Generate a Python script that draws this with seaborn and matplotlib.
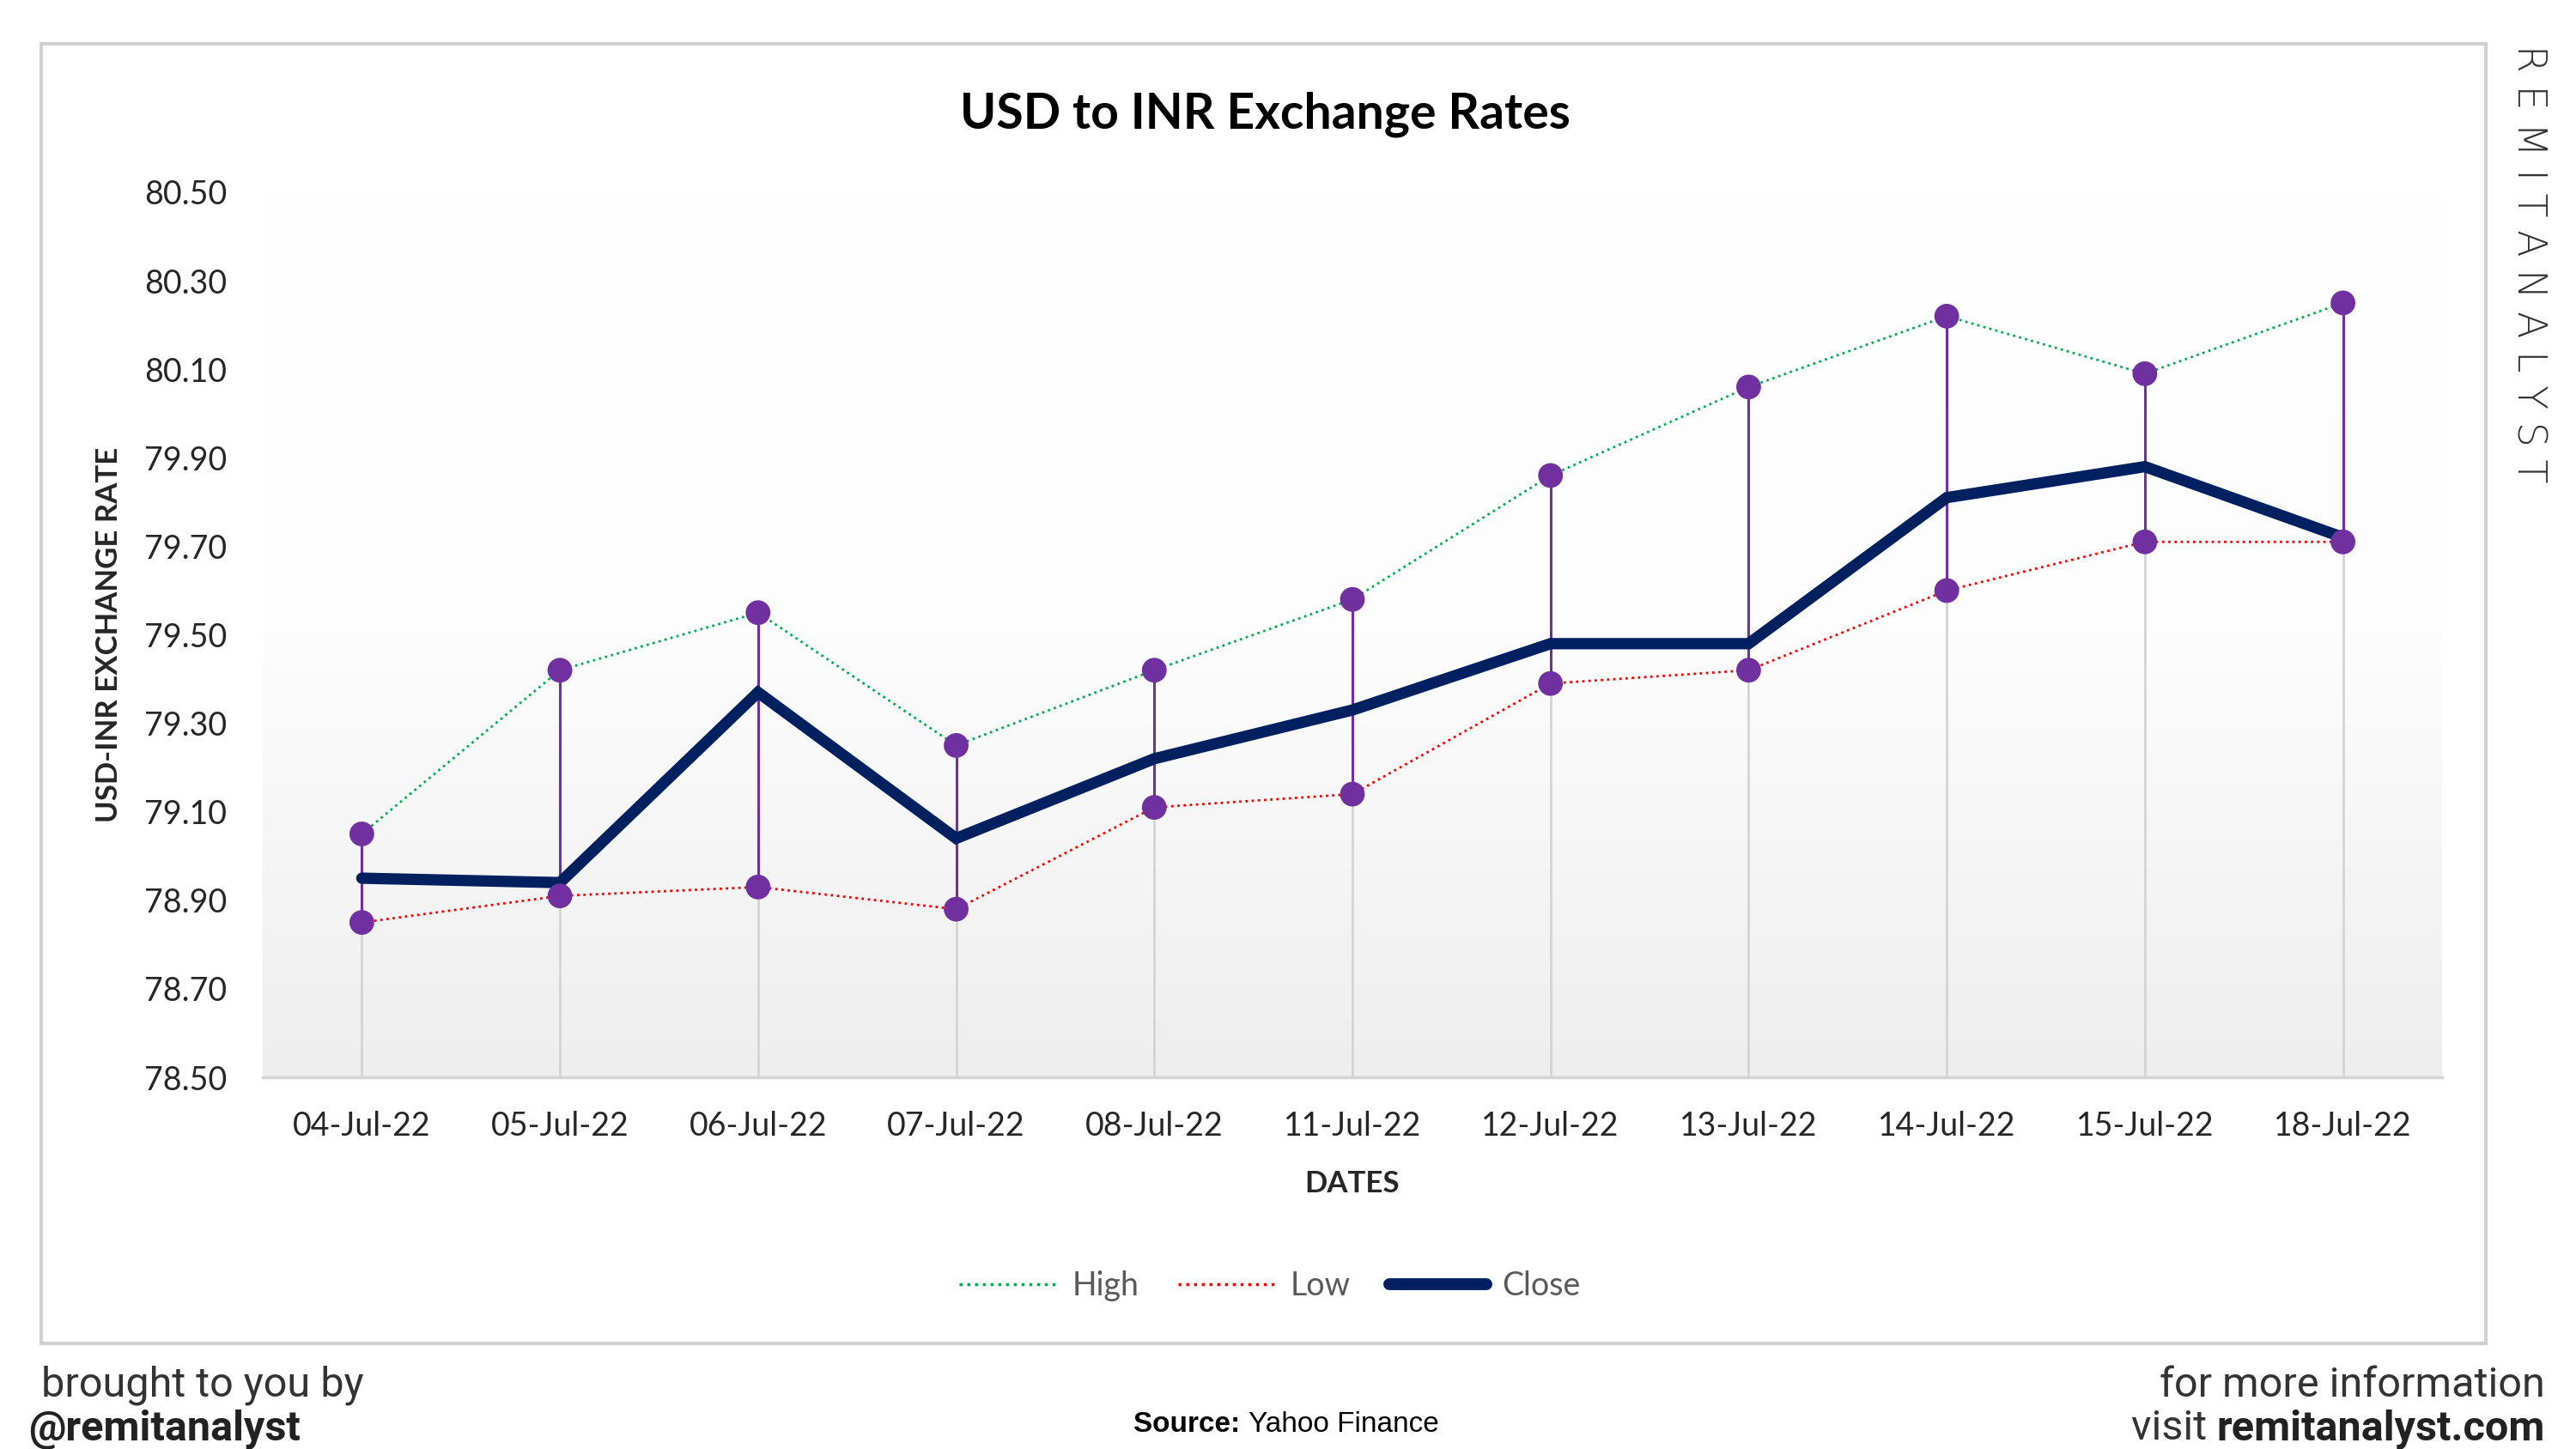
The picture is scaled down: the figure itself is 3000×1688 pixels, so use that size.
import numpy as np
import pandas as pd
import matplotlib.pyplot as plt
import seaborn as sns
from matplotlib.lines import Line2D
from matplotlib.patches import Rectangle

# data
dates = ['04-Jul-22', '05-Jul-22', '06-Jul-22', '07-Jul-22', '08-Jul-22', '11-Jul-22',
         '12-Jul-22', '13-Jul-22', '14-Jul-22', '15-Jul-22', '18-Jul-22']
high = [79.05, 79.42, 79.55, 79.25, 79.42, 79.58, 79.86, 80.06, 80.22, 80.09, 80.25]
low = [78.85, 78.91, 78.93, 78.88, 79.11, 79.14, 79.39, 79.42, 79.60, 79.71, 79.71]
close = [78.95, 78.94, 79.37, 79.04, 79.22, 79.33, 79.48, 79.48, 79.81, 79.88, 79.72]
y_ticks = [78.50, 78.70, 78.90, 79.10, 79.30, 79.50, 79.70, 79.90, 80.10, 80.30, 80.50]

GREEN = '#00b050'
RED = '#ff0000'
NAVY = '#002060'
PURPLE = '#7030a0'
GRID = '#d4d4d4'
TEXT = '#262626'
FOOT = ['Roboto', 'DejaVu Sans']
ARIAL = ['Liberation Sans', 'DejaVu Sans']

sns.set_theme(style='white')
plt.rcParams['font.family'] = ['Lato', 'DejaVu Sans']

df = pd.DataFrame({'Date': dates, 'High': high, 'Low': low, 'Close': close})
df['pos'] = np.arange(len(df))

fig = plt.figure(figsize=(30, 16.88), dpi=100)

# outer frame of the card
fig.patches.append(Rectangle((0.016, 0.073), 0.949, 0.897, transform=fig.transFigure,
                             facecolor='none', edgecolor='#d0d0d0', linewidth=3, zorder=-1))

ax = fig.add_axes([0.102, 0.2565, 0.846, 0.6108])
ax.set_facecolor('none')

# gradient plot area: white at the top, light grey at the bottom
grad = np.linspace(0, 1, 256).reshape(-1, 1)
cmap = sns.blend_palette(['#ffffff', '#fdfdfd', '#eeeeee'], as_cmap=True)
ax.imshow(grad, cmap=cmap, extent=[0, 1, 0, 1], transform=ax.transAxes,
          aspect='auto', zorder=0, vmin=0, vmax=1)

# drop lines and high-low lines
ax.vlines(df['pos'], y_ticks[0], df['High'], color=GRID, linewidth=2, zorder=1)
ax.vlines(df['pos'], df['Low'], df['High'], color=PURPLE, linewidth=2.2, zorder=2)

sns.lineplot(data=df, x='pos', y='High', ax=ax, color=GREEN, linewidth=2,
             linestyle=(0, (1, 1.6)), zorder=3)
sns.lineplot(data=df, x='pos', y='Low', ax=ax, color=RED, linewidth=2,
             linestyle=(0, (1, 1.6)), zorder=3)
sns.lineplot(data=df, x='pos', y='Close', ax=ax, color=NAVY, linewidth=9.5,
             solid_joinstyle='miter', zorder=4)
sns.scatterplot(data=df, x='pos', y='High', ax=ax, color=PURPLE, s=430,
                edgecolor='none', zorder=5)
sns.scatterplot(data=df, x='pos', y='Low', ax=ax, color=PURPLE, s=430,
                edgecolor='none', zorder=5)

ax.set_xlim(-0.5, len(dates) - 0.5)
ax.set_ylim(y_ticks[0], y_ticks[-1])
ax.set_yticks(y_ticks)
ax.set_yticklabels([f'{v:.2f}' for v in y_ticks], fontsize=27, color=TEXT)
ax.set_xticks(df['pos'])
ax.set_xticklabels(dates, fontsize=27, color=TEXT)
ax.tick_params(axis='x', length=0, pad=28)
ax.tick_params(axis='y', length=0, pad=30)
for side in ['top', 'right', 'left']:
    ax.spines[side].set_visible(False)
ax.spines['bottom'].set_color(GRID)
ax.spines['bottom'].set_linewidth(2.5)

ax.set_xlabel('DATES', fontsize=25, fontweight='bold', color=TEXT, labelpad=24)
ax.set_ylabel('USD-INR EXCHANGE RATE', fontsize=25, fontweight='bold', color=TEXT, labelpad=18)

fig.text(0.491, 0.921, 'USD to INR Exchange Rates', ha='center', va='center',
         fontsize=41, fontweight='bold', color='black')

handles = [
    Line2D([], [], color=GREEN, linewidth=2.5, linestyle=(0, (1, 1.6))),
    Line2D([], [], color=RED, linewidth=2.5, linestyle=(0, (1, 1.6))),
    Line2D([], [], color=NAVY, linewidth=10, solid_capstyle='round'),
]
fig.legend(handles, ['High', 'Low', 'Close'], loc='center', bbox_to_anchor=(0.493, 0.1125),
           ncol=3, frameon=False, fontsize=27, handlelength=3.0, columnspacing=1.2,
           handletextpad=0.5, labelcolor='#595959')

# vertical brand name
fig.text(0.9815, 0.969, 'R E M I T A N A L Y S T', rotation=-90, ha='center', va='top',
         fontsize=33, color='#333333', family=['DejaVu Sans'], fontweight='light')

# footer
fig.text(0.016, 0.044, 'brought to you by', ha='left', va='center',
         fontsize=35, color='#333333', family=FOOT)
fig.text(0.011, 0.014, '@remitanalyst', ha='left', va='center',
         fontsize=35, color='#222222', fontweight='bold', family=FOOT)
fig.text(0.988, 0.044, 'for more information', ha='right', va='center',
         fontsize=35, color='#333333', family=FOOT)
site = fig.text(0.988, 0.014, 'remitanalyst.com', ha='right', va='center',
                fontsize=35, color='#222222', fontweight='bold', family=FOOT)
ax.annotate('visit ', xy=(0, 0.5), xycoords=site, ha='right', va='center',
            fontsize=35, color='#333333', family=FOOT, annotation_clip=False)
src = fig.text(0.44, 0.017, 'Source: ', ha='left', va='center',
               fontsize=24, color='black', fontweight='bold', family=ARIAL)
ax.annotate('Yahoo Finance', xy=(1, 0.5), xycoords=src, ha='left', va='center',
            fontsize=24, color='black', family=ARIAL, annotation_clip=False)

fig.savefig('out.png', dpi=100)
